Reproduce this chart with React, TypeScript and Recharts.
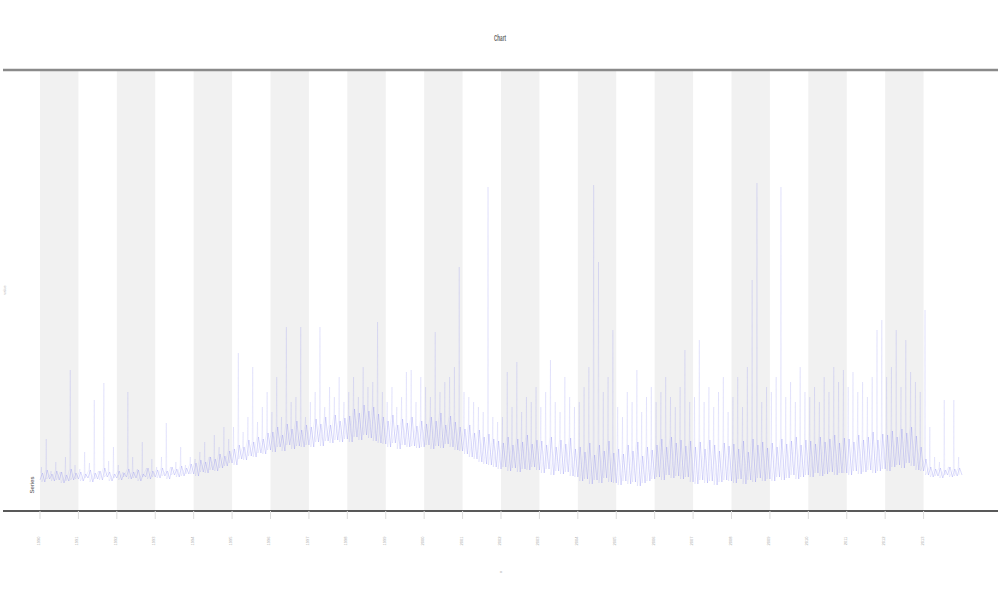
import {
  LineChart,
  Line,
  XAxis,
  YAxis,
  ReferenceArea,
  ReferenceLine,
  Customized,
} from "recharts";

// per slot readings, 8 slots per tick interval (24 intervals)
// lows: bottom of the trace, tops: upper edge of the dense band, highs: spike tips
const lows: number[] = [
  7, 5, 8, 6, 7, 4, 6, 7,
  8, 6, 9, 5, 8, 7, 10, 6,
  9, 7, 10, 8, 9, 6, 10, 8,
  10, 9, 11, 8, 12, 10, 11, 13,
  13, 11, 15, 14, 17, 16, 19, 21,
  24, 22, 28, 27, 31, 30, 34, 33,
  37, 35, 40, 36, 42, 38, 41, 40,
  42, 40, 45, 41, 46, 44, 47, 45,
  48, 45, 50, 47, 52, 49, 46, 44,
  43, 40, 44, 38, 42, 40, 41, 39,
  40, 42, 38, 41, 39, 43, 40, 37,
  36, 33, 30, 28, 25, 23, 22, 20,
  18, 20, 16, 19, 15, 18, 17, 20,
  17, 14, 18, 12, 16, 13, 15, 11,
  10, 6, 8, 3, 7, 4, 9, 5,
  4, 2, 6, 3, 5, 1, 4, 6,
  8, 10, 7, 12, 9, 11, 8, 10,
  5, 3, 7, 4, 6, 2, 5, 7,
  6, 4, 8, 3, 7, 5, 9, 6,
  8, 6, 10, 7, 9, 12, 8, 10,
  12, 10, 14, 11, 13, 15, 12, 14,
  14, 12, 16, 13, 15, 17, 14, 16,
  18, 16, 20, 22, 19, 24, 21, 17,
  16, 12, 10, 11, 9, 12, 10, 11,
  12,
];

const tops: number[] = [
  14, 17, 13, 16, 15, 12, 18, 14,
  15, 13, 17, 14, 16, 19, 15, 13,
  16, 14, 18, 15, 17, 13, 19, 16,
  17, 19, 16, 20, 18, 21, 19, 23,
  24, 27, 25, 30, 28, 33, 31, 36,
  38, 42, 40, 47, 45, 50, 48, 54,
  55, 60, 52, 63, 58, 66, 57, 62,
  60, 68, 63, 70, 62, 72, 66, 69,
  71, 78, 74, 82, 76, 80, 73, 70,
  66, 72, 62, 68, 64, 70, 61, 66,
  63, 70, 66, 74, 62, 71, 65, 60,
  58, 62, 54, 57, 50, 53, 48, 46,
  44, 50, 42, 48, 45, 52, 43, 47,
  46, 42, 50, 40, 47, 43, 49, 38,
  40, 35, 44, 32, 42, 36, 46, 34,
  38, 33, 42, 36, 45, 31, 40, 37,
  42, 48, 40, 50, 44, 47, 41, 46,
  40, 45, 38, 47, 42, 36, 44, 41,
  43, 38, 46, 35, 48, 42, 45, 39,
  44, 40, 48, 43, 46, 50, 42, 47,
  46, 43, 50, 45, 48, 52, 44, 49,
  48, 45, 52, 47, 50, 55, 47, 53,
  52, 56, 50, 58, 54, 60, 51, 40,
  28, 20, 18, 19, 17, 20, 18, 19,
  18,
];

const highs: number[] = [
  20, 48, 16, 25, 14, 30, 117, 22,
  18, 35, 24, 87, 14, 104, 26, 40,
  22, 15, 95, 30, 18, 45, 16, 28,
  20, 30, 64, 18, 25, 40, 22, 30,
  28, 35, 45, 30, 52, 40, 60, 48,
  60, 134, 55, 70, 120, 65, 80, 95,
  75, 110, 70, 160, 85, 90, 160, 70,
  85, 95, 160, 80, 100, 90, 110, 85,
  95, 110, 90, 120, 100, 105, 165, 95,
  85, 100, 80, 90, 115, 117, 85, 110,
  100, 90, 155, 95, 105, 110, 120, 220,
  95, 90, 85, 80, 75, 300, 70, 65,
  70, 115, 80, 125, 75, 90, 85, 100,
  80, 95, 127, 85, 75, 110, 90, 80,
  85, 100, 120, 302, 225, 95, 110, 157,
  80, 70, 95, 85, 117, 75, 90, 100,
  85, 95, 110, 90, 80, 100, 137, 85,
  90, 147, 85, 100, 80, 95, 110, 75,
  90, 110, 80, 120, 207, 304, 85, 100,
  95, 110, 300, 90, 105, 85, 120, 95,
  90, 100, 85, 110, 95, 120, 105, 117,
  100, 115, 95, 105, 90, 110, 157, 167,
  110, 120, 157, 100, 147, 115, 105, 95,
  177, 60, 30, 25, 87, 20, 87, 30,
];

const tickPositions: number[] = [
  0, 1, 2, 3, 4, 5, 6, 7, 8, 9, 10, 11, 12, 13, 14, 15, 16, 17, 18, 19, 20, 21, 22, 23,
];
const tickLabels: string[] = [
  "1990", "1991", "1992", "1993", "1994", "1995", "1996", "1997", "1998", "1999", "2000", "2001",
  "2002", "2003", "2004", "2005", "2006", "2007", "2008", "2009", "2010", "2011", "2012", "2013",
];
const yTicks: number[] = [0, 100, 200, 300, 400];
const bandStarts: number[] = [0, 2, 4, 6, 8, 10, 12, 14, 16, 18, 20, 22];

const SLOTS = 8;

// dense band: low -> band top -> low ...
const bandSeries: { x: number; v: number }[] = [];
lows.forEach((lo, j) => {
  bandSeries.push({ x: j / SLOTS, v: lo });
  if (j < lows.length - 1) bandSeries.push({ x: (j + 0.5) / SLOTS, v: tops[j] });
});

// faint spikes: narrow excursions from the band up to each spike tip
const spikeSeries: { x: number; v: number }[] = [];
highs.forEach((h, j) => {
  spikeSeries.push({ x: (j + 0.2) / SLOTS, v: tops[j] });
  spikeSeries.push({ x: (j + 0.3) / SLOTS, v: h });
  spikeSeries.push({ x: (j + 0.4) / SLOTS, v: lows[j + 1] });
});

const XTick = ({ x, y, payload }: any) => (
  <text
    transform={`translate(${x},${y + 20}) rotate(-90)`}
    textAnchor="middle"
    fontSize={4}
    fill="#aaa"
    fontFamily="Liberation Sans"
  >
    {tickLabels[payload.value]}
  </text>
);

const YTick = ({ x, y, payload }: any) => (
  <text
    transform={`translate(${x + 2},${y}) rotate(-90)`}
    textAnchor="middle"
    fontSize={4}
    fill="#bbb"
    fontFamily="Liberation Sans"
  >
    {payload.value}
  </text>
);

const Extras = () => (
  <g fontFamily="Liberation Sans">
    <text x={500} y={41} textAnchor="middle" fontSize={9} fontWeight="bold" fill="#666" textLength={12} lengthAdjust="spacingAndGlyphs">
      Chart
    </text>
    <text transform="translate(34,485) rotate(-90)" textAnchor="middle" fontSize={6} fill="#444" textLength={17} lengthAdjust="spacingAndGlyphs">
      Series
    </text>
    <text transform="translate(502,572) rotate(-90)" textAnchor="middle" fontSize={4} fill="#aaa">
      x
    </text>
    <text transform="translate(6,290) rotate(-90)" textAnchor="middle" fontSize={4} fill="#bbb">
      value
    </text>
  </g>
);

export default function App() {
  return (
    <div style={{ position: "absolute", left: 0, top: 0, width: 1000, height: 600, background: "#fff" }}>
      <LineChart width={1000} height={600} margin={{ top: 70, right: 2, bottom: 49, left: 3 }}>
        {bandStarts.map((b) => (
          <ReferenceArea key={b} x1={b} x2={b + 1} y1={-24} y2={417} fill="#f1f1f1" fillOpacity={1} stroke="none" />
        ))}
        <XAxis
          dataKey="x"
          type="number"
          domain={[-0.963, 24.937]}
          allowDataOverflow
          ticks={tickPositions}
          interval={0}
          height={40}
          axisLine={{ stroke: "#222", strokeWidth: 1.5 }}
          tickLine={{ stroke: "#ddd" }}
          tickSize={8}
          tick={(props: any) => <XTick {...props} />}
        />
        <YAxis
          type="number"
          domain={[-24, 417]}
          allowDataOverflow
          ticks={yTicks}
          width={0}
          mirror
          axisLine={{ stroke: "#e8e8e8" }}
          tickLine={false}
          tick={(props: any) => <YTick {...props} />}
        />
        <ReferenceLine y={417} stroke="#8a8a8a" strokeWidth={2.5} />
        <Line
          data={spikeSeries}
          type="linear"
          dataKey="v"
          stroke="#6a6af0"
          strokeWidth={0.5}
          strokeOpacity={0.22}
          dot={false}
          isAnimationActive={false}
        />
        <Line
          data={bandSeries}
          type="linear"
          dataKey="v"
          stroke="#6a6af0"
          strokeWidth={0.6}
          strokeOpacity={0.4}
          dot={false}
          isAnimationActive={false}
        />
        <Customized component={Extras} />
      </LineChart>
    </div>
  );
}
